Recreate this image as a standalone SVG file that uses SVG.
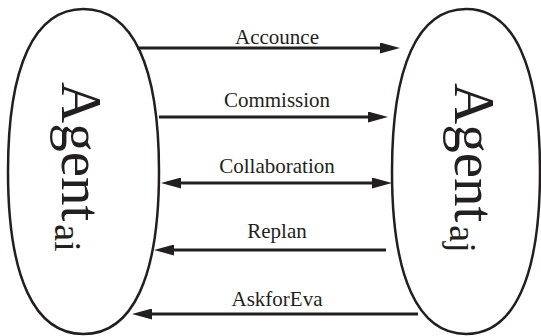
<svg xmlns="http://www.w3.org/2000/svg" width="541" height="336" viewBox="0 0 541 336">
<style>
.agent{fill:none;stroke:#231f20;stroke-width:2.5}
.conn{fill:none;stroke:#231f20;stroke-width:3.2}
.lbl{font-family:"Liberation Serif","Times New Roman",serif;font-size:21px;fill:#231f20;text-anchor:middle}
.big{font-family:"Liberation Serif","Times New Roman",serif;font-size:57px;fill:#231f20}
.sub{font-size:38px}
</style>
<defs>
<marker id="ah" markerUnits="userSpaceOnUse" markerWidth="20" markerHeight="11" refX="2" refY="5.5" orient="auto-start-reverse" viewBox="0 0 20 11">
<path d="M0,0 L20,5.5 L0,11 Z" fill="#231f20"/>
</marker>
</defs>
<rect width="541" height="336" fill="#ffffff"/>
<g id="agent-ai">
<path class="agent" d="M159,171.5 C159,277.1 132.6,334 83.5,334 C34.4,334 8,277.1 8,171.5 C8,65.9 34.4,9 83.5,9 C132.6,9 159,65.9 159,171.5 Z"/>
<text class="big" transform="translate(62,82) rotate(90)">Agent<tspan class="sub" dx="3" dy="7">ai</tspan></text>
</g>
<g id="agent-aj">
<path class="agent" d="M540,171.5 C540,277.1 514.1,334 466,334 C417.9,334 392,277.1 392,171.5 C392,65.9 417.9,9 466,9 C514.1,9 540,65.9 540,171.5 Z"/>
<text class="big" transform="translate(455,83) rotate(90)">Agent<tspan class="sub" dx="3" dy="5">aj</tspan></text>
</g>
<g id="connectors">
<path class="conn" d="M137,48 H382" marker-end="url(#ah)"/>
<path class="conn" d="M159,117 H370" marker-end="url(#ah)"/>
<path class="conn" d="M179,183 H374" marker-start="url(#ah)" marker-end="url(#ah)"/>
<path class="conn" d="M386,250 H172" marker-end="url(#ah)"/>
<path class="conn" d="M418,314 H150" marker-end="url(#ah)"/>
<text class="lbl" x="277" y="44">Accounce</text>
<text class="lbl" x="277" y="107">Commission</text>
<text class="lbl" x="277" y="173">Collaboration</text>
<text class="lbl" x="277" y="238">Replan</text>
<text class="lbl" x="277" y="306">AskforEva</text>
</g>
</svg>
